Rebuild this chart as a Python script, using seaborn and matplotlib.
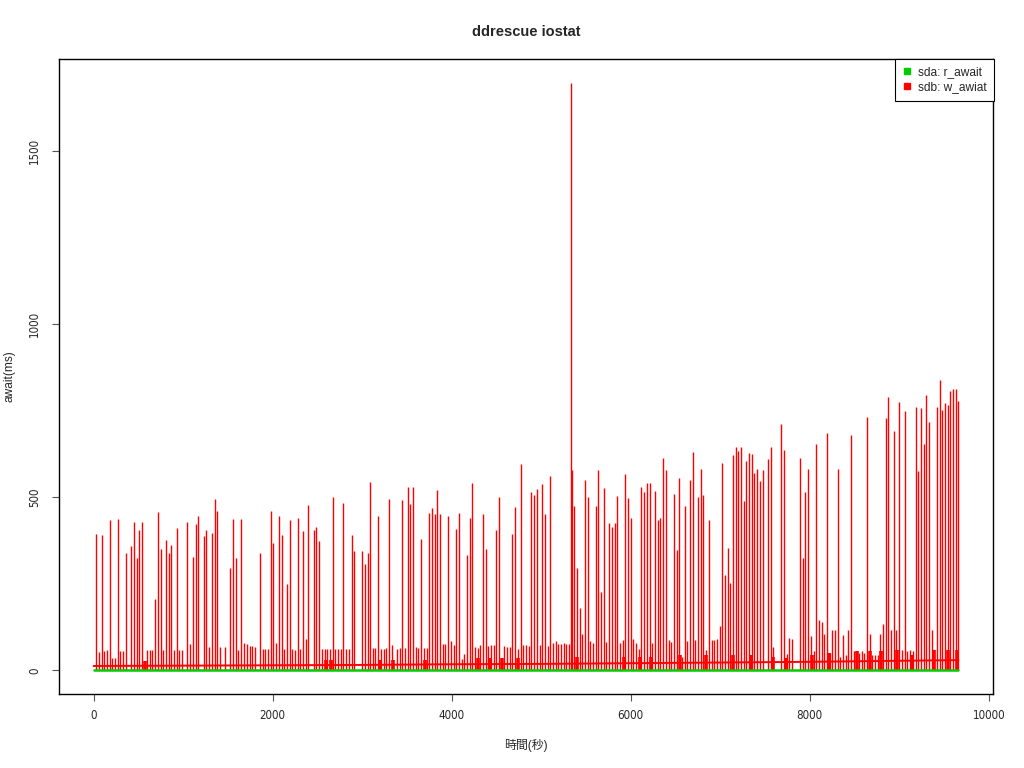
import numpy as np
import pandas as pd
import matplotlib
matplotlib.use("Agg")
import matplotlib.pyplot as plt
import seaborn as sns
from matplotlib.lines import Line2D

# ---------------- data ----------------
title = "ddrescue iostat"
x_label = "時間(秒)"
y_label = "await(ms)"
legend_labels = ["sda: r_await", "sdb: w_awiat"]
x_ticks = [0, 2000, 4000, 6000, 8000, 10000]
y_ticks = [0, 500, 1000, 1500]

# sdb w_await: tall spikes (time s, ms)
sdb_spike_t = [26, 89, 179, 272, 361, 417, 447, 480, 510, 540, 689, 719, 749, 808, 842, 868, 931,
               1047, 1110, 1140, 1170, 1229, 1259, 1322, 1352, 1378, 1527, 1557, 1587, 1650, 1858,
               1981, 2008, 2071, 2101, 2160, 2190, 2279, 2339, 2398, 2461, 2488, 2518,
               2670, 2790, 2883, 2909, 3001, 3031, 3061, 3088, 3180, 3300, 3449, 3512, 3538, 3568,
               3661, 3750, 3780, 3813, 3840, 3869, 3963, 4048, 4082, 4171, 4201, 4231, 4350, 4380,
               4499, 4529, 4678, 4708, 4771, 4890, 4920, 4950,
               5009, 5039, 5103, 5337, 5343, 5370, 5400, 5430, 5460, 5490, 5520, 5609, 5639, 5668,
               5698, 5762, 5791, 5821, 5851, 5940, 5970, 6000, 6119, 6149, 6182, 6212, 6272, 6302,
               6331, 6361, 6395, 6484, 6514, 6544, 6603, 6667, 6693, 6752, 6782, 6812, 6875, 6994,
               7024, 7054, 7084, 7113, 7143, 7173, 7203, 7233, 7263, 7292, 7322,
               7355, 7382, 7411, 7445, 7475, 7534, 7564, 7683, 7713, 7772, 7802, 7892, 7922, 7951,
               7981, 8011, 8074, 8104, 8134, 8164, 8193, 8253, 8283, 8313, 8372, 8432, 8462, 8640,
               8670, 8790, 8820, 8849, 8879, 8909, 8939, 8969, 8998, 9061, 9184, 9213, 9243, 9274,
               9304, 9333, 9363, 9423, 9453, 9482, 9512, 9542, 9572, 9601, 9631, 9661]
sdb_spike_v = [395, 391, 436, 438, 340, 360, 428, 326, 405, 430, 205, 457, 352, 376, 338, 361, 411,
               430, 327, 422, 445, 387, 405, 398, 494, 461, 297, 438, 326, 438, 340,
               460, 369, 445, 391, 251, 436, 441, 402, 477, 405, 415, 373,
               500, 485, 392, 344, 346, 307, 340, 545, 445, 494, 491, 530, 480, 531,
               379, 454, 470, 451, 520, 451, 445, 410, 456, 333, 441, 540, 453, 352,
               405, 500, 395, 473, 597, 514, 508, 525,
               538, 451, 561, 1698, 580, 474, 297, 181, 106, 551, 502, 476, 580, 226,
               527, 427, 414, 427, 504, 566, 499, 439, 531, 514, 540, 540, 517, 436,
               439, 615, 580, 510, 349, 555, 474, 549, 632, 500, 582, 506, 434, 129,
               599, 277, 354, 252, 621, 644, 634, 644, 490, 604, 628,
               624, 569, 581, 546, 579, 612, 644, 713, 636, 95, 90, 615, 325, 514,
               581, 99, 653, 145, 141, 104, 687, 116, 116, 581, 103, 116, 679, 732,
               106, 106, 133, 729, 790, 118, 691, 118, 774, 750, 761, 575, 758, 653,
               797, 717, 118, 761, 838, 751, 773, 767, 808, 814, 814, 778]

# sdb w_await: medium spikes
sdb_mid_t = [59, 115, 149, 209, 238, 298, 328, 596, 629, 655, 778, 898, 957, 983, 1076, 1288, 1411,
             1467, 1617, 1680, 1713, 1743, 1769, 1799, 1892, 1918, 1948, 2037, 2127, 2216, 2250,
             2309, 2372,
             2551, 2581, 2611, 2641, 2700, 2730, 2760, 2820, 2853, 3118, 3146, 3210, 3240, 3270,
             3330, 3389, 3419, 3479, 3598, 3628, 3691, 3720, 3899, 3929, 3993, 4022, 4111, 4141,
             4261, 4290, 4320, 4410, 4440, 4469, 4589, 4622, 4652, 4738, 4801, 4831, 4860,
             4983, 5073, 5132, 5162, 5192, 5222, 5252, 5282, 5311, 5550, 5580, 5728, 5881, 5911,
             6030, 6060, 6089, 6242, 6424, 6454, 6573, 6633, 6722, 6842, 6905, 6931, 6964,
             7594, 7743, 8044, 8223, 8343, 8402, 8491, 8550, 8580, 8610, 8700, 8730, 8760, 9028,
             9090, 9120, 9150, 9393]
sdb_mid_v = [53, 55, 58, 37, 37, 57, 57, 60, 60, 60, 58, 58, 60, 60, 77, 67, 69,
             69, 60, 80, 77, 72, 70, 68, 62, 62, 62, 80, 62, 62, 60,
             62, 90,
             62, 62, 62, 62, 63, 63, 63, 63, 63, 64, 66, 63, 63, 64,
             75, 63, 64, 65, 68, 65, 65, 65, 77, 77, 84, 74, 33, 48,
             67, 65, 74, 70, 75, 74, 70, 69, 67, 62, 74, 74, 72,
             75, 72, 78, 84, 76, 77, 78, 76, 76, 84, 78, 81, 80, 89,
             91, 80, 63, 79, 87, 83, 40, 84, 87, 60, 87, 87, 90,
             67, 48, 55, 50, 40, 45, 57, 50, 55, 50, 45, 45, 45, 60,
             55, 60, 55, 60]

# sdb w_await: short dense bursts near the baseline
sdb_burst_t = [570, 2600, 2650, 3200, 3350, 3700, 4290, 4425, 4560, 4740, 5400, 5930, 6100, 6230,
               6550, 6840, 7140, 7340, 7590, 7730, 8020, 8220, 8530, 8670, 8800, 8980, 9140, 9385,
               9540, 9640]
sdb_burst_v = [28, 30, 30, 30, 30, 30, 35, 35, 35, 35, 38, 40, 40, 40,
               45, 45, 45, 45, 40, 35, 45, 50, 55, 55, 55, 60, 45, 60,
               60, 60]

# sdb w_await: baseline level
sdb_base_t = [0, 1000, 2000, 3000, 4000, 5000, 6000, 7000, 8000, 9000, 9661]
sdb_base_v = [13, 14, 15, 16, 18, 19, 21, 23, 25, 28, 30]

# sda r_await: near zero throughout
sda_t = [0, 2000, 4000, 6000, 8000, 9661]
sda_v = [1, 1, 1, 1, 1, 1]

# ---------------- style ----------------
sns.set_theme(style="white")
plt.rcParams['font.family'] = ['Liberation Sans', 'Noto Sans CJK JP', 'DejaVu Sans']

RED = "#FF0000"
GREEN = "#00CD00"

fig = plt.figure(figsize=(10.24, 7.68), dpi=100)
ax = fig.add_axes([59 / 1024, 1 - 694 / 768, (993 - 59) / 1024, (694 - 59) / 768])

# spikes
ax.vlines(sdb_spike_t, 0, sdb_spike_v, color=RED, lw=1.0, zorder=2)
ax.vlines(sdb_mid_t, 0, sdb_mid_v, color=RED, lw=1.0, zorder=2)
ax.vlines(sdb_burst_t, 0, sdb_burst_v, color=RED, lw=2.6, zorder=2)

base_df = pd.DataFrame({"t": sdb_base_t, "v": sdb_base_v})
sns.lineplot(data=base_df, x="t", y="v", color=RED, lw=1.4, ax=ax, zorder=3)
sda_df = pd.DataFrame({"t": sda_t, "v": sda_v})
sns.lineplot(data=sda_df, x="t", y="v", color=GREEN, lw=1.8, ax=ax, zorder=4)

xmax = max(sdb_spike_t)
ymax = max(sdb_spike_v)
ax.set_xlim(-0.04 * xmax, xmax * 1.04)
ax.set_ylim(-0.04 * ymax, ymax * 1.04)

ax.set_xticks(x_ticks)
ax.set_yticks(y_ticks)
tick_font = dict(family='DejaVu Sans', stretch='condensed', size=8.3)
ax.set_xticklabels([str(v) for v in x_ticks], **tick_font)
ax.set_yticklabels([str(v) for v in y_ticks], rotation=90, va='center', **tick_font)
ax.tick_params(axis='both', direction='out', length=5, width=0.8, color='#555555',
               bottom=True, left=True)
ax.tick_params(axis='x', pad=5.6)
ax.tick_params(axis='y', pad=8.0)

for s in ax.spines.values():
    s.set_visible(True)
    s.set_color('black')
    s.set_linewidth(1.0)

ax.set_xlabel(x_label, fontsize=8.6, labelpad=12.5)
ax.set_ylabel(y_label, fontsize=8.6, labelpad=9)
ax.set_title(title, fontsize=10.5, fontweight='bold', pad=16.5)

handles = [Line2D([], [], marker='s', ls='none', color=GREEN, markersize=4.2),
           Line2D([], [], marker='s', ls='none', color=RED, markersize=4.2)]
leg = ax.legend(handles, legend_labels, loc='upper right', bbox_to_anchor=(1.001, 1.0),
                borderaxespad=0, fancybox=False, framealpha=1, edgecolor='black',
                fontsize=8.6, handlelength=0.8, handletextpad=0.5, labelspacing=0.25,
                borderpad=0.62)
leg.get_frame().set_linewidth(0.8)

fig.savefig("out.png", dpi=100)
